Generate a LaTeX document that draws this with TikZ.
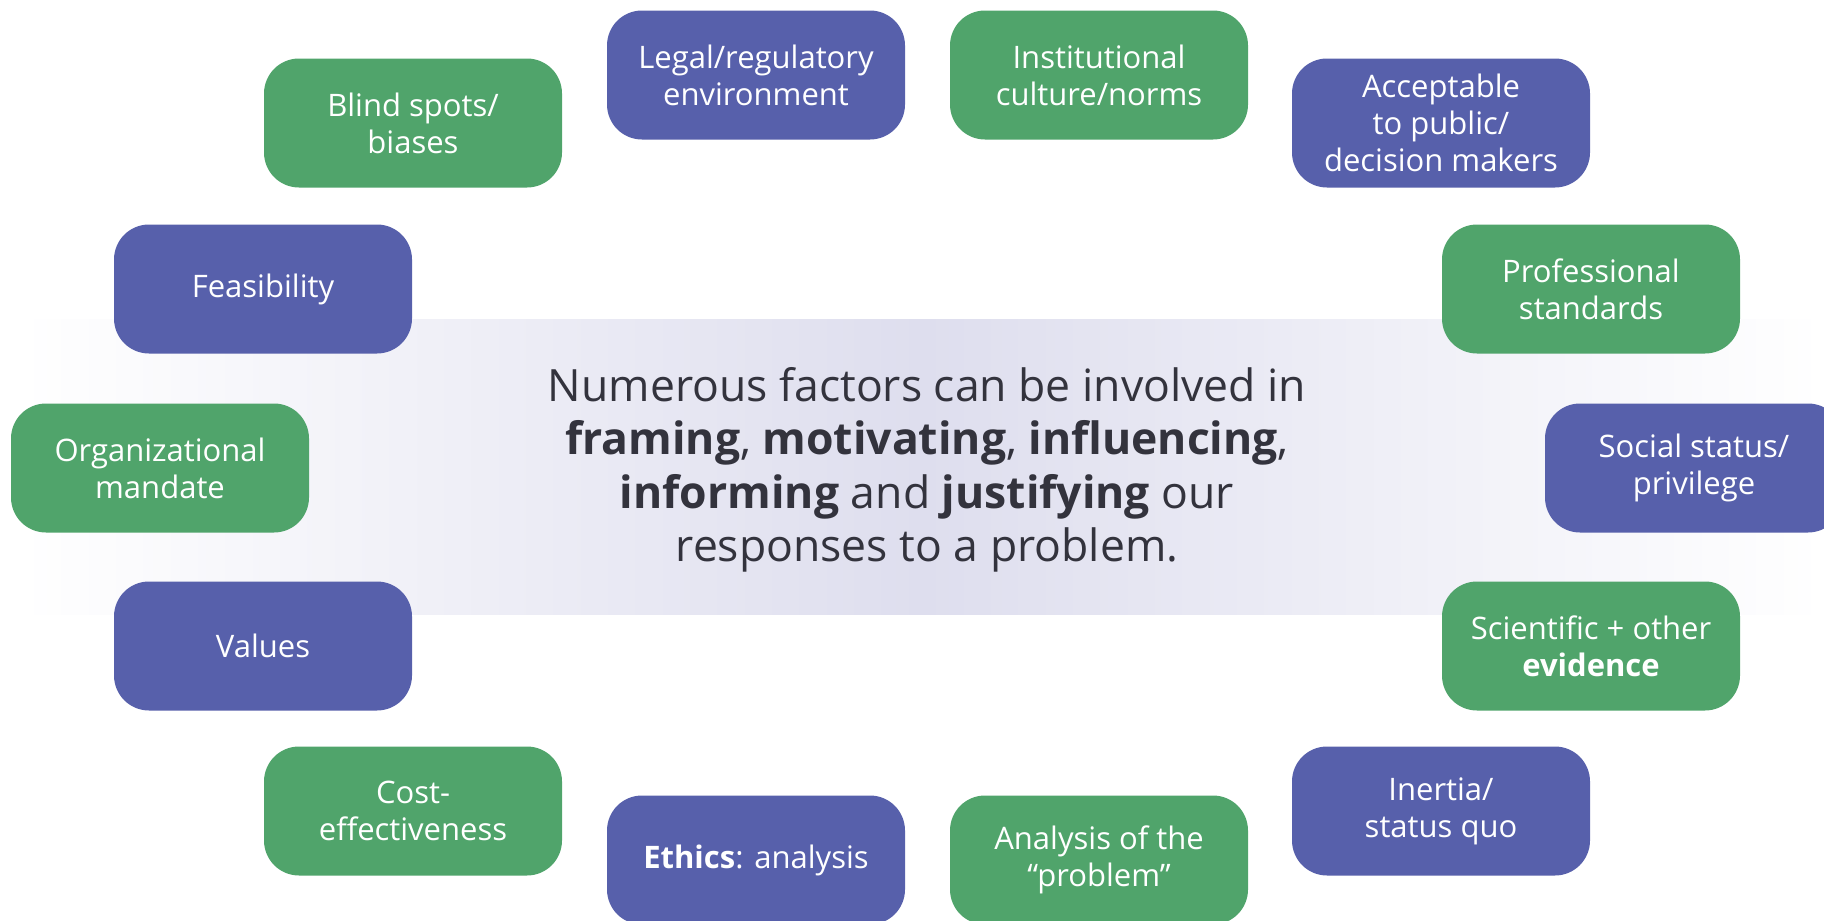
\documentclass[tikz,border=0pt]{standalone}
\usepackage{fontspec}
\setmainfont{Open Sans}
\definecolor{boxblue}{RGB}{87,96,171}
\definecolor{boxgreen}{RGB}{80,164,107}
\definecolor{bandmid}{RGB}{222,222,238}
\definecolor{maintext}{RGB}{51,51,61}
\begin{document}
\begin{tikzpicture}[x=1pt,y=-1pt]
        % Styles
        \tikzstyle{factor} = [rectangle, rounded corners=35pt, text=white,
                              minimum height=129pt, minimum width=298pt,
                              align=center, font=\fontsize{31}{37}\selectfont]
        \tikzstyle{blue} = [factor, fill=boxblue]
        \tikzstyle{green} = [factor, fill=boxgreen]

        \useasboundingbox (0,0) rectangle (1824,921);

        % ==== Band behind the middle ====
        \shade[left color=white, right color=white, middle color=bandmid]
            (20,319) rectangle (1824,614);
        \node[text=maintext, align=center, font=\fontsize{44.5}{53.5}\selectfont] (centre) at (927,470)
            {Numerous factors can be involved in\\
             \textbf{framing}, \textbf{motivating}, \textbf{influencing},\\
             \textbf{informing} and \textbf{justifying} our\\
             responses to a problem.};

        % ==== Factors (clockwise from top left) ====
        \node[green] (blindspots)    at (413,123)  {Blind spots/\\biases};
        \node[blue]  (legal)         at (756,75)   {Legal/regulatory\\environment};
        \node[green] (institutional) at (1099,75)  {Institutional\\culture/norms};
        \node[blue]  (acceptable)    at (1441,123) {Acceptable\\to public/\\decision makers};
        \node[green] (professional)  at (1591,289) {Professional\\standards};
        \node[blue]  (social)        at (1694,468) {Social status/\\privilege};
        \node[green] (scientific)    at (1591,646) {Scientific + other\\\textbf{evidence}};
        \node[blue]  (inertia)       at (1441,811) {Inertia/\\status quo};
        \node[green] (analysis)      at (1099,860) {Analysis of the\\“problem”};
        \node[blue]  (ethics)        at (756,860)  {\textbf{Ethics}: analysis};
        \node[green] (cost)          at (413,811)  {Cost-\\effectiveness};
        \node[blue]  (values)        at (263,646)  {Values};
        \node[green] (mandate)       at (160,468)  {Organizational\\mandate};
        \node[blue]  (feasibility)   at (263,289)  {Feasibility};
    \end{tikzpicture}
\end{document}
